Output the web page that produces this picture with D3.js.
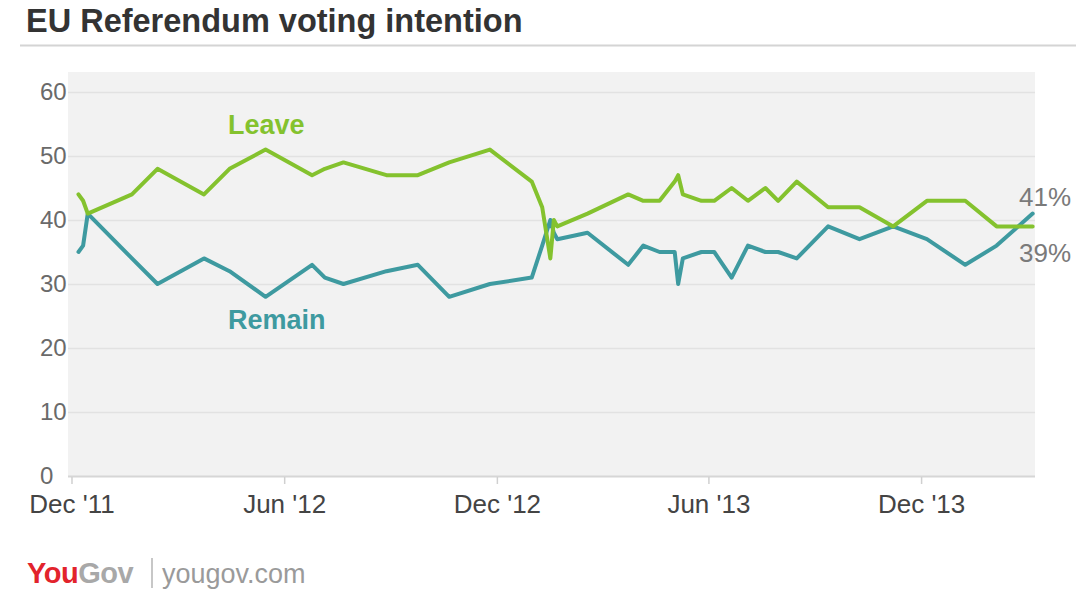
<!DOCTYPE html>
<html>
<head>
<meta charset="utf-8">
<script src="https://cdn.jsdelivr.net/npm/d3@7"></script>
<style>
  html, body { margin: 0; padding: 0; background: #fff; }
  svg { display: block; font-family: "Liberation Sans", Arial, sans-serif; }
</style>
</head>
<body>
<svg id="chart" width="1092" height="590"></svg>
<script>
// Fieldwork dates of each poll
const pollDates = [
  "2011-12-07", "2011-12-11", "2011-12-15", "2012-01-22", "2012-02-13",
  "2012-03-24", "2012-04-15", "2012-05-16", "2012-06-25", "2012-07-06",
  "2012-07-22", "2012-08-28", "2012-09-24", "2012-10-21", "2012-11-25",
  "2012-12-31", "2013-01-09", "2013-01-16", "2013-01-19", "2013-01-22",
  "2013-02-17", "2013-03-24", "2013-04-06", "2013-04-20", "2013-05-03",
  "2013-05-06", "2013-05-10", "2013-05-26", "2013-06-06", "2013-06-21",
  "2013-07-05", "2013-07-20", "2013-07-31", "2013-08-16", "2013-09-12",
  "2013-10-09", "2013-11-07", "2013-12-06", "2014-01-08", "2014-02-04",
  "2014-03-07"
];

// Share saying they would vote to leave the EU (%)
const leaveValues = [
  44, 43, 41, 44, 48,
  44, 48, 51, 47, 48,
  49, 47, 47, 49, 51,
  46, 42, 34, 40, 39,
  41, 44, 43, 43, 46,
  47, 44, 43, 43, 45,
  43, 45, 43, 46, 42,
  42, 39, 43, 43, 39,
  39
];

// Share saying they would vote to remain in the EU (%)
const remainValues = [
  35, 36, 41, 34, 30,
  34, 32, 28, 33, 31,
  30, 32, 33, 28, 30,
  31, 36, 40, 38, 37,
  38, 33, 36, 35, 35,
  30, 34, 35, 35, 31,
  36, 35, 35, 34, 39,
  37, 39, 37, 33, 36,
  41
];

const yTickValues = [0, 10, 20, 30, 40, 50, 60];
const xTickDates = ["2011-12-01", "2012-06-01", "2012-12-01", "2013-06-01", "2013-12-01"];
const xTickLabels = ["Dec '11", "Jun '12", "Dec '12", "Jun '13", "Dec '13"];

const parse = d3.utcParse("%Y-%m-%d");
const leaveColor = "#84c22e";
const remainColor = "#3e9aa0";

const svg = d3.select("#chart");

// Title and rule beneath it
svg.append("text")
  .attr("x", 26).attr("y", 32)
  .attr("font-size", 32.5).attr("font-weight", "bold")
  .attr("fill", "#333")
  .text("EU Referendum voting intention");
svg.append("line")
  .attr("x1", 20).attr("x2", 1076).attr("y1", 45.5).attr("y2", 45.5)
  .attr("stroke", "#d4d4d4").attr("stroke-width", 2);

const x = d3.scaleUtc()
  .domain([parse("2011-11-28"), parse("2014-03-09")])
  .range([68, 1035]);
const y = d3.scaleLinear().domain([0, 60]).range([476, 92]);

// Plot background
svg.append("rect")
  .attr("x", x.range()[0]).attr("y", 72)
  .attr("width", x.range()[1] - x.range()[0]).attr("height", y(0) - 72)
  .attr("fill", "#f2f2f2");

// Horizontal gridlines and value labels (labels left-aligned in the margin)
const yAxis = d3.axisLeft(y).tickValues(yTickValues)
  .tickSize(-(x.range()[1] - x.range()[0])).tickPadding(0);
const gy = svg.append("g")
  .attr("transform", `translate(${x.range()[0]},0)`)
  .call(yAxis);
gy.select(".domain").remove();
gy.selectAll(".tick line")
  .attr("stroke", d => d === 0 ? "#d6d6d6" : "#e2e2e2")
  .attr("stroke-width", d => d === 0 ? 2 : 1.5);
gy.selectAll(".tick text")
  .attr("x", 40 - x.range()[0])
  .attr("text-anchor", "start")
  .attr("font-size", 24).attr("fill", "#6a6a6a")
  .attr("font-family", "Liberation Sans, Arial, sans-serif");

// Date axis
const xAxis = d3.axisBottom(x)
  .tickValues(xTickDates.map(parse))
  .tickFormat((d, i) => xTickLabels[i])
  .tickSize(7).tickPadding(11);
const gx = svg.append("g")
  .attr("transform", `translate(0,${y(0) + 1})`)
  .call(xAxis);
gx.select(".domain").remove();
gx.selectAll(".tick line").attr("stroke", "#d0d0d0").attr("stroke-width", 1.5);
gx.selectAll(".tick text")
  .attr("font-size", 26).attr("fill", "#444")
  .attr("font-family", "Liberation Sans, Arial, sans-serif");

// Series lines
const rows = pollDates.map((d, i) => ({
  date: parse(d), leave: leaveValues[i], remain: remainValues[i]
}));
const line = key => d3.line().x(d => x(d.date)).y(d => y(d[key]));

svg.append("path").datum(rows)
  .attr("d", line("remain"))
  .attr("fill", "none").attr("stroke", remainColor)
  .attr("stroke-width", 4).attr("stroke-linejoin", "round").attr("stroke-linecap", "round");
svg.append("path").datum(rows)
  .attr("d", line("leave"))
  .attr("fill", "none").attr("stroke", leaveColor)
  .attr("stroke-width", 4).attr("stroke-linejoin", "round").attr("stroke-linecap", "round");

// Series names
svg.append("text").attr("x", 228).attr("y", 134)
  .attr("font-size", 27).attr("font-weight", "bold").attr("fill", leaveColor)
  .text("Leave");
svg.append("text").attr("x", 228).attr("y", 329)
  .attr("font-size", 27).attr("font-weight", "bold").attr("fill", remainColor)
  .text("Remain");

// Latest readings
const last = rows[rows.length - 1];
svg.append("text").attr("x", 1019).attr("y", y(last.remain) - 8)
  .attr("font-size", 26).attr("fill", "#7a7a7a")
  .text(`${last.remain}%`);
svg.append("text").attr("x", 1019).attr("y", y(last.leave) + 36)
  .attr("font-size", 26).attr("fill", "#7a7a7a")
  .text(`${last.leave}%`);

// Footer branding
const brand = svg.append("text").attr("x", 27).attr("y", 583)
  .attr("font-size", 29).attr("font-weight", "bold").attr("letter-spacing", -0.5);
brand.append("tspan").attr("fill", "#e2232c").text("You");
brand.append("tspan").attr("fill", "#a8a8a8").text("Gov");
svg.append("line")
  .attr("x1", 152).attr("x2", 152).attr("y1", 558).attr("y2", 588)
  .attr("stroke", "#b5b5b5").attr("stroke-width", 1.5);
svg.append("text").attr("x", 162).attr("y", 583)
  .attr("font-size", 27).attr("fill", "#9a9a9a")
  .text("yougov.com");
</script>
</body>
</html>
